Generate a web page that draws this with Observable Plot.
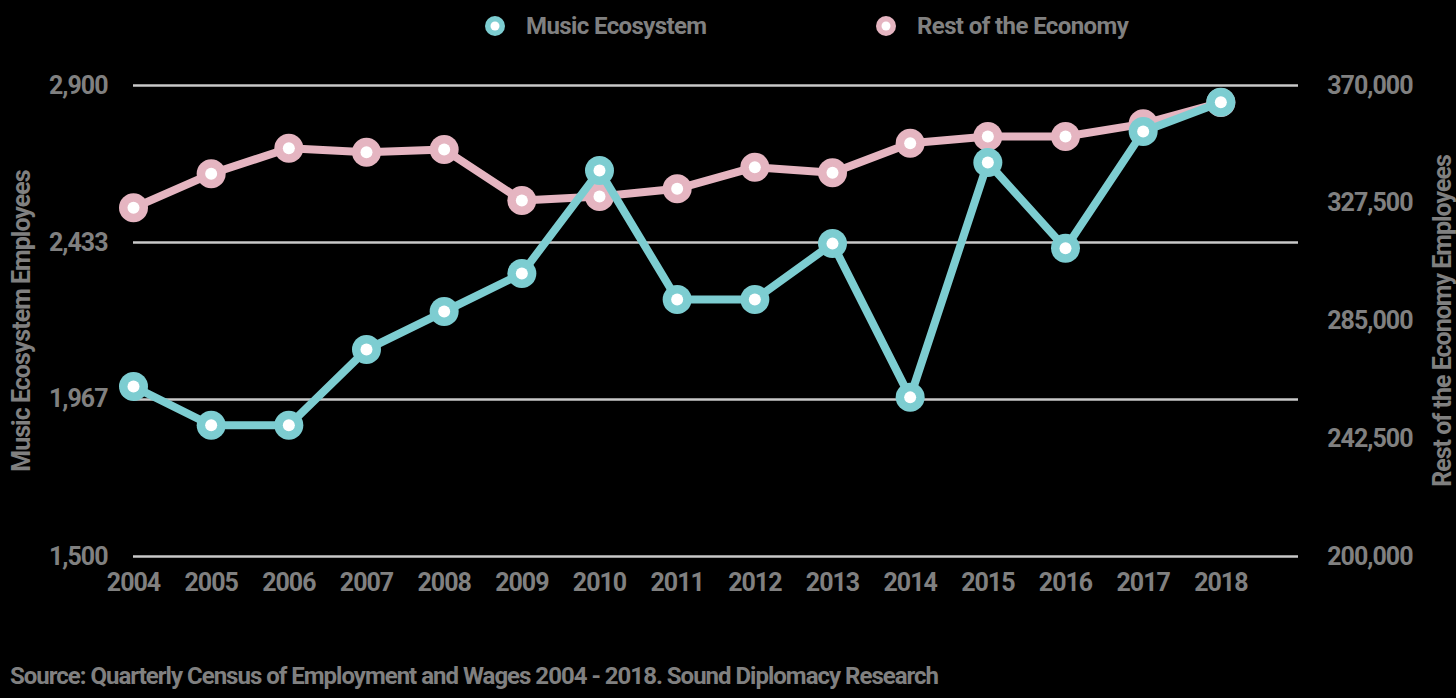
<!DOCTYPE html>
<html>
<head>
<meta charset="utf-8">
<script src="https://cdn.jsdelivr.net/npm/d3@7"></script>
<script src="https://cdn.jsdelivr.net/npm/@observablehq/plot@0.6"></script>
<style>
  html, body { margin: 0; padding: 0; background: #000; }
  body { width: 1456px; height: 698px; position: relative; overflow: hidden; font-family: Roboto, sans-serif; color: #808080; }
  #legend { position: absolute; top: 8px; left: 0; width: 1456px; height: 36px; }
  .item { position: absolute; top: 0; display: flex; align-items: center; height: 36px; font-size: 24px; font-weight: 700; letter-spacing: -0.6px; }
  .item svg { margin-right: 20px; }
  #caption { position: absolute; left: 10px; top: 662px; font-size: 24px; font-weight: 700; letter-spacing: -1px; white-space: nowrap; }
  #chart { position: absolute; left: 0; top: 0; }
</style>
</head>
<body>
<div id="chart"></div>
<div id="legend"></div>
<div id="caption">Source: Quarterly Census of Employment and Wages 2004 - 2018. Sound Diplomacy Research</div>
<script>
const years = [2004, 2005, 2006, 2007, 2008, 2009, 2010, 2011, 2012, 2013, 2014, 2015, 2016, 2017, 2018];
const musicEcosystem = [2005, 1890, 1890, 2115, 2228, 2341, 2647, 2264, 2264, 2430, 1973, 2671, 2416, 2763, 2850];
const restOfEconomy = [325850, 338120, 347370, 345930, 346900, 328500, 329930, 332700, 340510, 338470, 349180, 351590, 351590, 356160, 363860];
const leftTicks = [1500, 1966.67, 2433.33, 2900];
const leftTickLabels = ["1,500", "1,967", "2,433", "2,900"];
const rightTicks = [200000, 242500, 285000, 327500, 370000];
const rightTickLabels = ["200,000", "242,500", "285,000", "327,500", "370,000"];
const seriesNames = ["Music Ecosystem", "Rest of the Economy"];
const seriesColors = ["#7dcdd1", "#e5b5c1"];

const leftDomain = [1500, 2900];
const rightDomain = [200000, 370000];
const r2m = d3.scaleLinear().domain(rightDomain).range(leftDomain);
const rightTickPos = rightTicks.map(r2m);

const musicData = years.map((y, i) => ({year: y, value: musicEcosystem[i]}));
const restData = years.map((y, i) => ({year: y, value: r2m(restOfEconomy[i])}));

const chart = Plot.plot({
  width: 1456,
  height: 698,
  marginLeft: 133,
  marginRight: 158,
  marginTop: 85,
  marginBottom: 142,
  style: {background: "#000", color: "#808080", fontFamily: "Roboto, sans-serif", fontSize: "25px", fontWeight: 700, letterSpacing: "-1px"},
  x: {type: "linear", domain: [2004, 2019]},
  y: {domain: leftDomain},
  marks: [
    Plot.gridY(leftTicks, {stroke: "#c9c9c9", strokeOpacity: 1, strokeWidth: 2.5}),
    Plot.axisX(years, {tickSize: 0, tickPadding: 17, tickFormat: d => String(d), label: null, fill: "#808080"}),
    Plot.axisY(leftTicks, {anchor: "left", tickSize: 0, tickPadding: 26,
      tickFormat: d => leftTickLabels[leftTicks.indexOf(d)],
      label: "Music Ecosystem Employees", labelAnchor: "center", labelOffset: 121, labelArrow: "none", fill: "#808080"}),
    Plot.axisY(rightTickPos, {anchor: "right", tickSize: 0, tickPadding: 114, textAnchor: "end",
      tickFormat: d => rightTickLabels[rightTickPos.indexOf(d)],
      label: "Rest of the Economy Employees", labelAnchor: "center", labelOffset: 152, labelArrow: "none", fill: "#808080"}),
    Plot.line(restData, {x: "year", y: "value", stroke: seriesColors[1], strokeWidth: 8}),
    Plot.dot(restData, {x: "year", y: "value", r: 14.5, fill: seriesColors[1]}),
    Plot.dot(restData, {x: "year", y: "value", r: 6, fill: "#fff"}),
    Plot.line(musicData, {x: "year", y: "value", stroke: seriesColors[0], strokeWidth: 8}),
    Plot.dot(musicData, {x: "year", y: "value", r: 14.5, fill: seriesColors[0]}),
    Plot.dot(musicData, {x: "year", y: "value", r: 6, fill: "#fff"})
  ]
});
document.getElementById("chart").appendChild(chart);

const legend = document.getElementById("legend");
const legendX = [484, 875];
seriesNames.forEach((name, i) => {
  const item = document.createElement("div");
  item.className = "item";
  item.style.left = legendX[i] + "px";
  item.innerHTML = `<svg width="22" height="22"><circle cx="11" cy="11" r="10" fill="${seriesColors[i]}"/><circle cx="11" cy="11" r="4.5" fill="#fff"/></svg><span>${name}</span>`;
  legend.appendChild(item);
});
</script>
</body>
</html>
